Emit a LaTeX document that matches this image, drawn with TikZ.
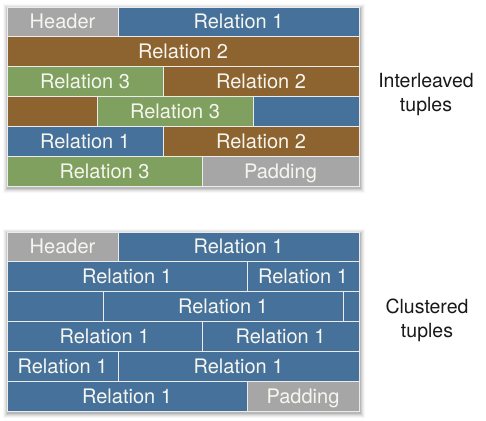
\documentclass[tikz,border=0pt]{standalone}
\usepackage{fontspec}
\setmainfont{TeX Gyre Heros}
\definecolor{cgray}{HTML}{A6A6A6}
\definecolor{cblue}{HTML}{46719B}
\definecolor{cbrown}{HTML}{8D6330}
\definecolor{cgreen}{HTML}{7FA05E}
\definecolor{ctext}{HTML}{F6F6F0}
\tikzset{
  cellbox/.style={draw=white!92!black, line width=0.9pt, inner sep=0pt, text=ctext,
    text height=14.4pt, text depth=0pt,
    font=\fontsize{20}{23}\selectfont},
  sidelabel/.style={align=center, text=black!90, font=\fontsize{19.5}{24}\selectfont},
}
\newcommand\mkcell[7]{%
  \node[cellbox, fill=#6, minimum width={(#4-#2)*1pt}, minimum height={(#5-#3)*1pt}]
    (#1) at ({(#2+#4)/2},{(#3+#5)/2}) {#7};}
\newcommand\mkshadow[4]{%
  \foreach \d/\o in {5/0.03,4/0.04,3/0.06,2/0.08,1/0.10}{
    \fill[black, opacity=\o] ({#1-\d+1},{#2-\d+2}) rectangle ({#3+\d+1},{#4+\d+2});
  }}
\begin{document}
\begin{tikzpicture}[x=1pt,y=-1pt]
\useasboundingbox[fill=white] (0,0) rectangle (486,420);
% shadows
\mkshadow{7}{7}{359}{186}
\mkshadow{7}{232}{359}{411}
% Interleaved block
\mkcell{ia1}{7}{7}{118}{36}{cgray}{Header}
\mkcell{ia2}{118}{7}{359}{36}{cblue}{Relation 1}
\mkcell{ib1}{7}{36}{359}{66}{cbrown}{Relation 2}
\mkcell{ic1}{7}{66}{163}{96}{cgreen}{Relation 3}
\mkcell{ic2}{163}{66}{359}{96}{cbrown}{Relation 2}
\mkcell{id1}{7}{96}{97}{126}{cbrown}{}
\mkcell{id2}{97}{96}{253}{126}{cgreen}{Relation 3}
\mkcell{id3}{253}{96}{359}{126}{cblue}{}
\mkcell{ie1}{7}{126}{163}{156}{cblue}{Relation 1}
\mkcell{ie2}{163}{126}{359}{156}{cbrown}{Relation 2}
\mkcell{if1}{7}{156}{202}{186}{cgreen}{Relation 3}
\mkcell{if2}{202}{156}{359}{186}{cgray}{Padding}
% Clustered block
\mkcell{ca1}{7}{232}{118}{261}{cgray}{Header}
\mkcell{ca2}{118}{232}{359}{261}{cblue}{Relation 1}
\mkcell{cb1}{7}{261}{247}{291}{cblue}{Relation 1}
\mkcell{cb2}{247}{261}{359}{291}{cblue}{Relation 1}
\mkcell{cc1}{7}{291}{103}{321}{cblue}{}
\mkcell{cc2}{103}{291}{343}{321}{cblue}{Relation 1}
\mkcell{cc3}{343}{291}{359}{321}{cblue}{}
\mkcell{cd1}{7}{321}{202}{351}{cblue}{Relation 1}
\mkcell{cd2}{202}{321}{359}{351}{cblue}{Relation 1}
\mkcell{ce1}{7}{351}{118}{381}{cblue}{Relation 1}
\mkcell{ce2}{118}{351}{359}{381}{cblue}{Relation 1}
\mkcell{cf1}{7}{381}{247}{411}{cblue}{Relation 1}
\mkcell{cf2}{247}{381}{359}{411}{cgray}{Padding}
% side labels
\node[sidelabel] (il) at (426,95) {Interleaved\\tuples};
\node[sidelabel] (cl) at (427,320) {Clustered\\tuples};
\end{tikzpicture}
\end{document}
